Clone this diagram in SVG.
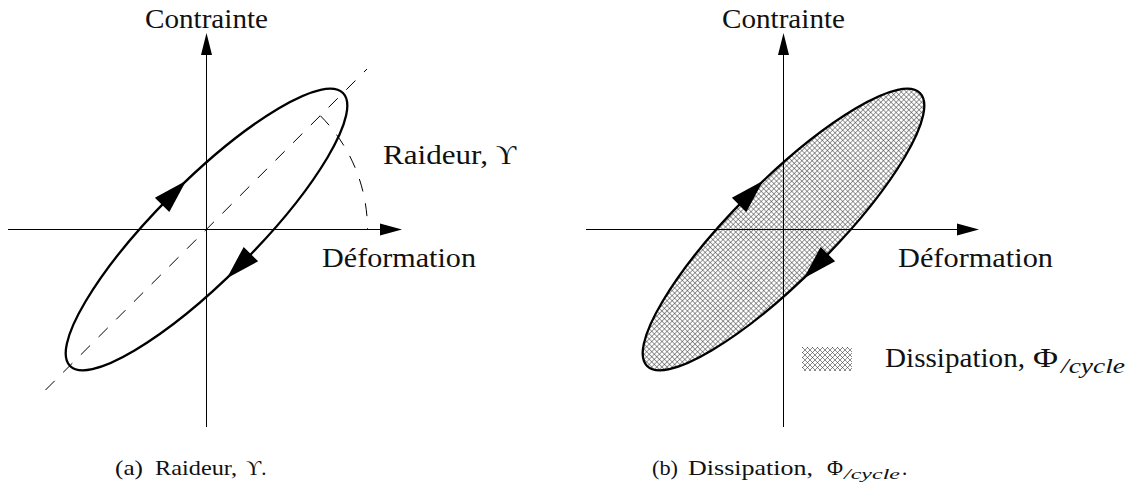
<svg xmlns="http://www.w3.org/2000/svg" width="1144" height="488" viewBox="0 0 1144 488">
<style>
.axis{stroke:#000;stroke-width:1;fill:none}
.loop{stroke:#000;stroke-width:2.3;fill:none}
.dash{stroke:#000;stroke-width:1;fill:none;stroke-dasharray:13 12}
.head{fill:#000;stroke:none}
text{font-family:Liberation Serif, Times New Roman, Times, serif}
.lbl{font-size:28px;fill:#111}
.cap{font-size:21px;fill:#111}
.it{font-style:italic}
</style>
<defs>
<pattern id="hatch" patternUnits="userSpaceOnUse" width="5" height="5">
<path d="M-1,-1 L6,6 M6,-1 L-1,6" stroke="#3a3a3a" stroke-width="0.6" fill="none"/>
</pattern>
<pattern id="hatchR" patternUnits="userSpaceOnUse" width="3.6" height="3.6">
<path d="M0,0.3 H3.6 M0.3,0 V3.6" stroke="#3a3a3a" stroke-width="0.6" fill="none"/>
</pattern>
<polygon id="loopHead" points="20,-48.8 -14,-59 -14,-38.6"/>
</defs>

<g id="panel-a">
  <g id="a-axes">
    <line class="axis" x1="206.5" y1="52" x2="206.5" y2="427"/>
    <polygon class="head" points="206.5,33 201,55 212,55"/>
    <line class="axis" x1="8" y1="229.5" x2="383" y2="229.5"/>
    <polygon class="head" points="402,229.5 380,223.5 380,235.5"/>
  </g>
  <g id="a-stiffness">
    <line class="dash" x1="45.5" y1="390" x2="367" y2="69"/>
    <path class="dash" d="M 320.3,115.7 A 161 161 0 0 1 367.5,229.5"/>
  </g>
  <g id="a-loop" transform="translate(206.5,229.5) rotate(-45)">
    <ellipse class="loop" cx="0" cy="0" rx="193" ry="49"/>
    <use href="#loopHead" class="head"/>
    <use href="#loopHead" class="head" transform="rotate(180)"/>
  </g>
  <g id="a-labels">
    <text class="lbl" x="145" y="28" textLength="123" lengthAdjust="spacingAndGlyphs">Contrainte</text>
    <text class="lbl" x="322" y="267" textLength="154" lengthAdjust="spacingAndGlyphs">Déformation</text>
    <text class="lbl" x="383" y="164"><tspan textLength="105" lengthAdjust="spacingAndGlyphs">Raideur,</tspan><tspan x="496">ϒ</tspan></text>
    <text class="cap" x="115" y="475"><tspan textLength="28" lengthAdjust="spacingAndGlyphs">(a)</tspan><tspan x="155" textLength="82" lengthAdjust="spacingAndGlyphs">Raideur,</tspan><tspan x="246">ϒ.</tspan></text>
  </g>
</g>

<g id="panel-b">
  <g id="b-fill" transform="translate(783.5,229.5) rotate(-45)">
    <ellipse cx="0" cy="0" rx="193" ry="49" fill="url(#hatchR)" stroke="none"/>
  </g>
  <g id="b-axes">
    <line class="axis" x1="783.5" y1="52" x2="783.5" y2="427"/>
    <polygon class="head" points="783.5,33 778,55 789,55"/>
    <line class="axis" x1="586" y1="229.5" x2="960" y2="229.5"/>
    <polygon class="head" points="979,229.5 957,223.5 957,235.5"/>
  </g>
  <g id="b-loop" transform="translate(783.5,229.5) rotate(-45)">
    <ellipse class="loop" cx="0" cy="0" rx="193" ry="49"/>
    <use href="#loopHead" class="head"/>
    <use href="#loopHead" class="head" transform="rotate(180)"/>
  </g>
  <g id="b-legend">
    <rect x="802" y="347" width="50" height="24" fill="url(#hatch)"/>
    <text class="lbl" x="885" y="367"><tspan textLength="140" lengthAdjust="spacingAndGlyphs">Dissipation,</tspan><tspan x="1033" textLength="25" lengthAdjust="spacingAndGlyphs">Φ</tspan><tspan class="it" x="1061" y="373" font-size="21" textLength="64" lengthAdjust="spacingAndGlyphs">/cycle</tspan></text>
  </g>
  <g id="b-labels">
    <text class="lbl" x="722" y="28" textLength="123" lengthAdjust="spacingAndGlyphs">Contrainte</text>
    <text class="lbl" x="898" y="267" textLength="155" lengthAdjust="spacingAndGlyphs">Déformation</text>
    <text class="cap" x="652" y="475"><tspan textLength="26" lengthAdjust="spacingAndGlyphs">(b)</tspan><tspan x="688" textLength="125" lengthAdjust="spacingAndGlyphs">Dissipation,</tspan><tspan x="827" textLength="16" lengthAdjust="spacingAndGlyphs">Φ</tspan><tspan class="it" x="844" y="479" font-size="15" textLength="56" lengthAdjust="spacingAndGlyphs">/cycle</tspan><tspan x="902" y="475">.</tspan></text>
  </g>
</g>
</svg>
